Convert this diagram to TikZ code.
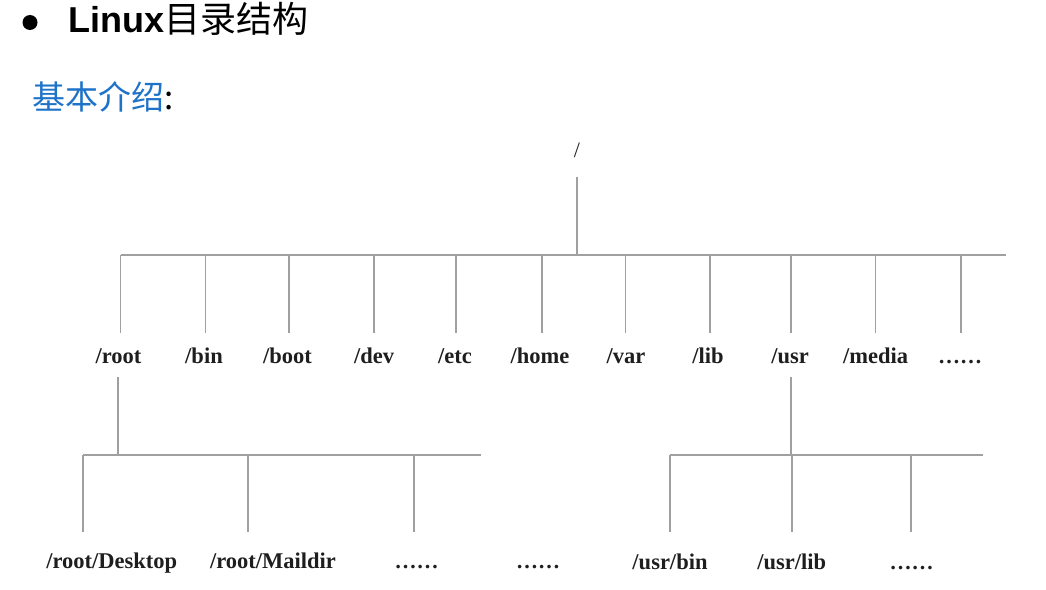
\documentclass[tikz,border=0pt]{standalone}
\usepackage{fontspec}
\setmainfont{Liberation Serif}
\newfontfamily\titlefont{Liberation Sans}
\newfontfamily\cjk{Noto Sans CJK SC}
\definecolor{linegray}{RGB}{160,160,160}
\definecolor{introblue}{RGB}{30,115,200}
\definecolor{labelblack}{RGB}{30,30,30}
\begin{document}
\begin{tikzpicture}[x=1pt,y=-1pt,
  treeline/.style={draw=linegray, line width=1.5pt},
  lbl/.style={font=\fontsize{22.5}{23}\selectfont\bfseries, text=labelblack, anchor=base, inner sep=0pt},
  dots/.style={font=\fontsize{22}{23}\selectfont\bfseries, text=labelblack, anchor=base, inner sep=0pt}]
\useasboundingbox (0,0) rectangle (1046,589);

% heading
\node[circle, fill=black, minimum size=15pt, inner sep=0pt] (bullet) at (30,22.5) {};
\node[anchor=base west, inner sep=0pt, font=\titlefont\fontsize{36}{36}\selectfont\bfseries] (title) at (68,32) {Linux{\cjk\mdseries 目录结构}};
\node[anchor=base west, inner sep=0pt, font=\cjk\fontsize{33}{33}\selectfont] (intro) at (32,109) {\textcolor{introblue}{基本介绍}:};

% root of tree
\node[anchor=base, inner sep=0pt, font=\fontsize{22}{23}\selectfont, text=labelblack] (top) at (577,157) {/};
\coordinate (topA) at (577,177);
\coordinate (topB) at (577,255);
\coordinate (busL) at (120.5,255);
\coordinate (busR) at (1006,255);
\draw[treeline] (topA) -- (topB);
\draw[treeline] (busL) -- (busR);

% first level
\foreach \n/\x/\lx/\t in {root/120.5/118.5/{/root}, bin/205.5/204/{/bin}, boot/289/287.5/{/boot}, dev/374/374/{/dev}, etc/456/455/{/etc}, home/542/540/{/home}, var/625.5/626/{/var}, lib/710/708/{/lib}, usr/791/790/{/usr}, media/875.5/875.5/{/media}}{
  \coordinate (\n-a) at (\x,255);
  \coordinate (\n-b) at (\x,333);
  \draw[treeline] (\n-a) -- (\n-b);
  \node[lbl] (\n) at (\lx,363) {\t};
}
\coordinate (more-a) at (961,255);
\coordinate (more-b) at (961,333);
\draw[treeline] (more-a) -- (more-b);
\node[dots] (more) at (960,363) {……};

% second level under /root
\coordinate (rootdownA) at (118,377);
\coordinate (rootdownB) at (118,455);
\coordinate (rbusL) at (83,455);
\coordinate (rbusR) at (481,455);
\draw[treeline] (rootdownA) -- (rootdownB);
\draw[treeline] (rbusL) -- (rbusR);
\foreach \n/\x in {rdesk/83, rmail/248, rmore/414}{
  \coordinate (\n-a) at (\x,455);
  \coordinate (\n-b) at (\x,532);
  \draw[treeline] (\n-a) -- (\n-b);
}
\node[lbl] (rdesk) at (111.7,568) {/root/Desktop};
\node[lbl] (rmail) at (273,568) {/root/Maildir};
\node[dots] (rmore) at (416.5,568) {……};
\node[dots] (midmore) at (538,568) {……};

% second level under /usr
\coordinate (usrdownA) at (791,377);
\coordinate (usrdownB) at (791,455);
\coordinate (ubusL) at (670,455);
\coordinate (ubusR) at (983,455);
\draw[treeline] (usrdownA) -- (usrdownB);
\draw[treeline] (ubusL) -- (ubusR);
\foreach \n/\x in {ubin/670, ulib/792, umore/911}{
  \coordinate (\n-a) at (\x,455);
  \coordinate (\n-b) at (\x,532);
  \draw[treeline] (\n-a) -- (\n-b);
}
\node[lbl] (ubin) at (670,569) {/usr/bin};
\node[lbl] (ulib) at (791.7,569) {/usr/lib};
\node[dots] (umore) at (911.7,569) {……};
\end{tikzpicture}
\end{document}
